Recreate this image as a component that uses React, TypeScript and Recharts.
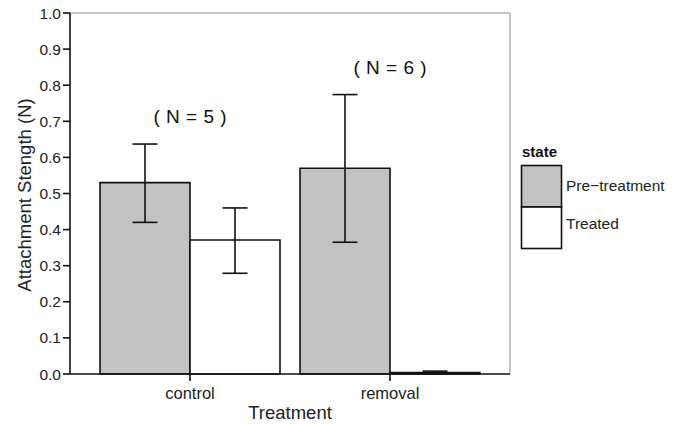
import React from "react";
import {
  BarChart,
  Bar,
  XAxis,
  YAxis,
  ErrorBar,
  ReferenceDot,
  ReferenceLine,
} from "recharts";

const categories = ["control", "removal"];
const categoryPos = [1, 2];
const preValues = [0.53, 0.57];
const preLow = [0.42, 0.365];
const preHigh = [0.637, 0.774];
const treatedValues = [0.371, 0.004];
const treatedLow = [0.279, 0.001];
const treatedHigh = [0.46, 0.008];
const nLabels = ["( N = 5 )", "( N = 6 )"];
const nLabelY = [0.715, 0.85];
const yTicks = [0, 0.1, 0.2, 0.3, 0.4, 0.5, 0.6, 0.7, 0.8, 0.9, 1.0];
const xDomain = [0.4, 2.6];
const seriesNames = ["Pre\u2212treatment", "Treated"];
const seriesFills = ["#c2c2c2", "#ffffff"];
const legendTitle = "state";

const data = categories.map((c, i) => ({
  treatment: c,
  pos: categoryPos[i],
  pre: preValues[i],
  preErr: [preValues[i] - preLow[i], preHigh[i] - preValues[i]],
  treated: treatedValues[i],
  treatedErr: [treatedValues[i] - treatedLow[i], treatedHigh[i] - treatedValues[i]],
}));

const FONT = '"Liberation Sans", Arial, Helvetica, sans-serif';

const LegendBox = () => (
  <svg width={170} height={120} style={{ display: "block" }}>
    <text x={7} y={17} fontFamily={FONT} fontSize={15} fontWeight="bold" fill="#111">
      {legendTitle}
    </text>
    {seriesNames.map((name, i) => (
      <g key={name}>
        <rect
          x={6.5}
          y={25.5 + i * 41.5}
          width={40}
          height={41.5}
          fill={seriesFills[i]}
          stroke="#111"
          strokeWidth={1.6}
        />
        <text
          x={51}
          y={45 + i * 38}
          fontFamily={FONT}
          fontSize={15.5}
          fill="#222"
          dominantBaseline="central"
        >
          {name}
        </text>
      </g>
    ))}
  </svg>
);

const YTitle = () => (
  <text
    x={24}
    y={195}
    transform="rotate(-90 24 195)"
    textAnchor="middle"
    dominantBaseline="central"
    fontFamily={FONT}
    fontSize={18.5}
    fill="#222"
  >
    Attachment Stength (N)
  </text>
);

export default function App() {
  return (
    <div style={{ position: "absolute", left: 0, top: 0, width: 685, height: 424, background: "#fff" }}>
      <BarChart
        width={685}
        height={424}
        data={data}
        margin={{ top: 13, right: 175, left: 0, bottom: 0 }}
        barCategoryGap={10}
        barGap={0}
        style={{ fontFamily: FONT }}
      >
        <XAxis
          dataKey="pos"
          type="number"
          domain={xDomain}
          ticks={categoryPos}
          interval={0}
          allowDataOverflow
          tickFormatter={(v: number) => categories[categoryPos.indexOf(v)] ?? ""}
          height={50}
          tickSize={7}
          tickMargin={6}
          axisLine={{ stroke: "#111", strokeWidth: 1.6 }}
          tickLine={{ stroke: "#111", strokeWidth: 1.6 }}
          tick={{ fill: "#222", fontSize: 16.5, fontFamily: FONT }}
          label={{
            value: "Treatment",
            position: "insideBottom",
            offset: 5,
            fill: "#222",
            fontSize: 18.5,
            fontFamily: FONT,
          }}
        />
        <YAxis
          width={70}
          domain={[0, 1]}
          ticks={yTicks}
          interval={0}
          tickFormatter={(v: number) => v.toFixed(1)}
          tickSize={7}
          tickMargin={2}
          axisLine={{ stroke: "#111", strokeWidth: 1.6 }}
          tickLine={{ stroke: "#111", strokeWidth: 1.6 }}
          tick={{ fill: "#222", fontSize: 15.5, fontFamily: FONT }}
          label={{ content: () => <YTitle /> }}
        />
        <ReferenceLine y={1} stroke="#b0b0b0" strokeWidth={1.5} />
        <ReferenceLine x={xDomain[1]} stroke="#b0b0b0" strokeWidth={1.5} />
        <Bar
          dataKey="pre"
          name={seriesNames[0]}
          fill={seriesFills[0]}
          stroke="#111"
          strokeWidth={1.6}
          isAnimationActive={false}
        >
          <ErrorBar dataKey="preErr" width={12.5} stroke="#111" strokeWidth={1.6} direction="y" />
        </Bar>
        <Bar
          dataKey="treated"
          name={seriesNames[1]}
          fill={seriesFills[1]}
          stroke="#111"
          strokeWidth={1.6}
          isAnimationActive={false}
        >
          <ErrorBar dataKey="treatedErr" width={12.5} stroke="#111" strokeWidth={1.6} direction="y" />
        </Bar>
        {categories.map((c, i) => (
          <ReferenceDot
            key={c}
            x={categoryPos[i]}
            y={nLabelY[i]}
            r={0}
            fill="none"
            stroke="none"
            label={{
              value: nLabels[i],
              position: "center",
              fill: "#111",
              fontSize: 19,
              fontFamily: FONT,
              style: { wordSpacing: "1px" },
            }}
          />
        ))}
      </BarChart>
      <div style={{ position: "absolute", left: 515, top: 140, width: 170 }}>
        <LegendBox />
      </div>
    </div>
  );
}
